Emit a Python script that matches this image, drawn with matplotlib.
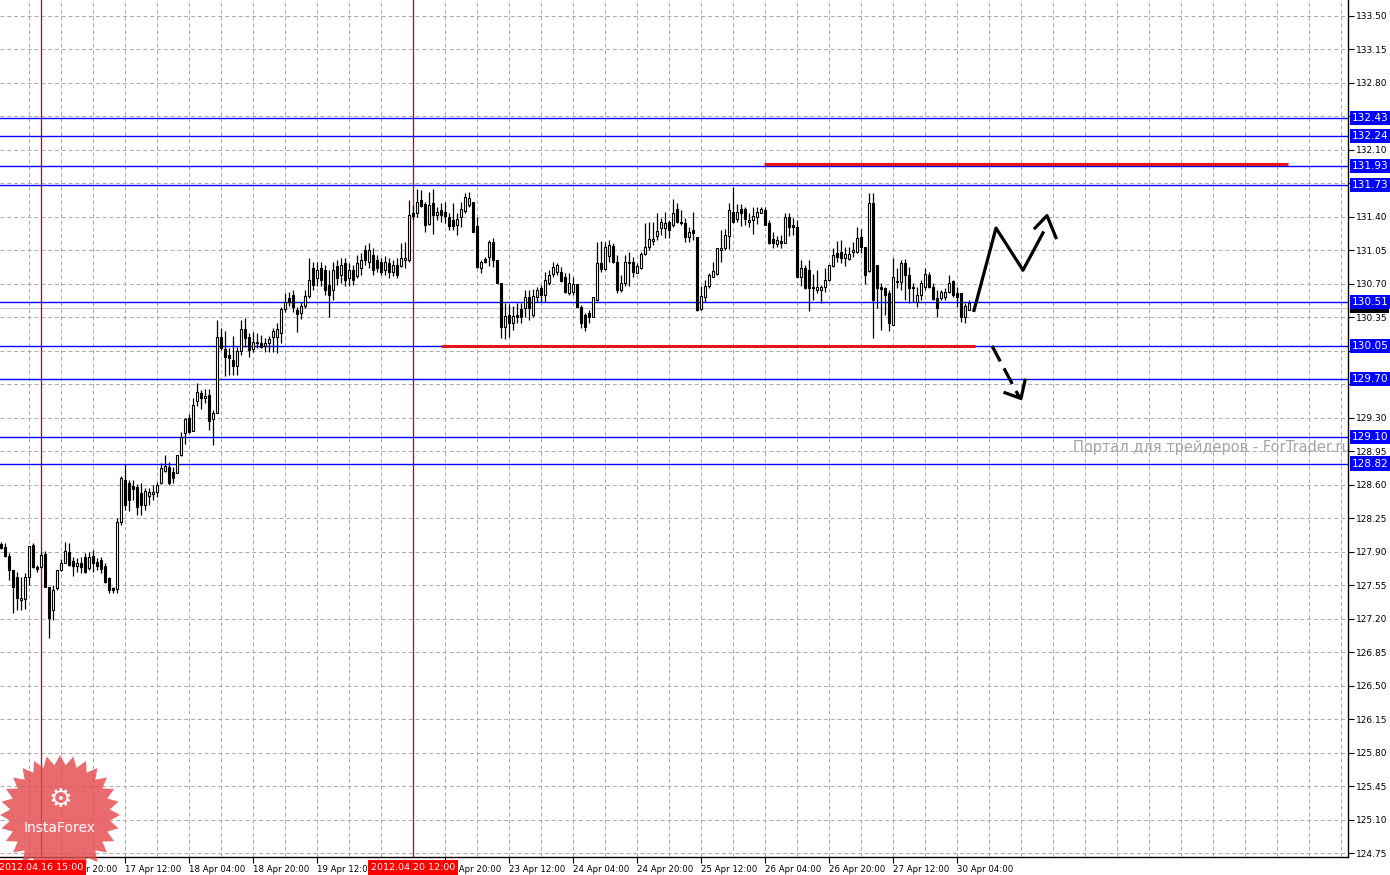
import numpy as np
import matplotlib
matplotlib.use("Agg")
import matplotlib.pyplot as plt
from matplotlib.patches import Polygon, Rectangle

# H1 candles, 16 Apr 05:00 .. 30 Apr 07:00 (bar index 0 .. 242)
opens = [
    127.98, 127.95, 127.86, 127.71, 127.64, 127.40, 127.41, 127.64, 127.97, 127.74,
    127.74, 127.88, 127.53, 127.29, 127.52, 127.71, 127.78, 127.90, 127.80, 127.75,
    127.78, 127.84, 127.73, 127.85, 127.79, 127.81, 127.75, 127.62, 127.52, 127.51,
    128.21, 128.65, 128.62, 128.59, 128.58, 128.51, 128.39, 128.48, 128.50, 128.52,
    128.62, 128.74, 128.78, 128.73, 128.72, 128.91, 129.14, 129.30, 129.16, 129.47,
    129.56, 129.50, 129.54, 129.29, 129.35, 130.14, 130.02, 129.95, 129.90, 129.84,
    130.00, 130.23, 130.14, 130.02, 130.08, 130.08, 130.05, 130.08, 130.14, 130.14,
    130.18, 130.43, 130.55, 130.58, 130.42, 130.39, 130.47, 130.57, 130.86, 130.76,
    130.86, 130.84, 130.69, 130.63, 130.88, 130.79, 130.92, 130.76, 130.84, 130.78,
    130.86, 131.05, 130.93, 131.00, 130.95, 130.93, 130.84, 130.92, 130.82, 130.89,
    130.88, 130.95, 130.95, 131.44, 131.44, 131.57, 131.53, 131.32, 131.54, 131.42,
    131.47, 131.45, 131.40, 131.36, 131.31, 131.40, 131.46, 131.52, 131.55, 131.30,
    130.86, 130.96, 130.98, 131.13, 130.95, 130.71, 130.25, 130.37, 130.29, 130.37,
    130.43, 130.45, 130.56, 130.37, 130.56, 130.65, 130.58, 130.71, 130.80, 130.82,
    130.82, 130.77, 130.60, 130.61, 130.70, 130.46, 130.37, 130.39, 130.35, 130.53,
    130.92, 130.85, 130.99, 131.09, 130.93, 130.63, 130.71, 130.93, 130.93, 130.81,
    130.86, 131.01, 131.08, 131.15, 131.20, 131.28, 131.28, 131.34, 131.31, 131.48,
    131.34, 131.33, 131.19, 131.26, 131.19, 130.43, 130.56, 130.67, 130.77, 130.80,
    131.05, 131.07, 131.20, 131.45, 131.37, 131.48, 131.48, 131.34, 131.36, 131.40,
    131.44, 131.47, 131.33, 131.17, 131.11, 131.15, 131.12, 131.40, 131.31, 131.29,
    130.77, 130.86, 130.84, 130.65, 130.63, 130.63, 130.66, 130.74, 130.88, 131.02,
    131.03, 130.97, 130.96, 131.03, 131.03, 131.19, 131.08, 130.83, 131.54, 130.89,
    130.66, 130.65, 130.60, 130.27, 130.72, 130.72, 130.91, 130.79, 130.65, 130.51,
    130.58, 130.66, 130.79, 130.66, 130.55, 130.55, 130.56, 130.61, 130.73, 130.60,
    130.60, 130.35, 130.42,
]
closes = [
    127.94, 127.86, 127.71, 127.53, 127.42, 127.42, 127.64, 127.96, 127.74, 127.72,
    127.87, 127.53, 127.21, 127.50, 127.71, 127.78, 127.91, 127.76, 127.75, 127.78,
    127.74, 127.69, 127.84, 127.78, 127.75, 127.72, 127.58, 127.50, 127.50, 128.21,
    128.67, 128.39, 128.44, 128.55, 128.37, 128.39, 128.53, 128.52, 128.52, 128.60,
    128.77, 128.79, 128.62, 128.67, 128.91, 129.10, 129.29, 129.15, 129.43, 129.57,
    129.50, 129.53, 129.27, 129.35, 130.14, 130.03, 129.93, 129.92, 129.84, 130.00,
    130.23, 130.13, 130.01, 130.09, 130.09, 130.04, 130.08, 130.12, 130.20, 130.23,
    130.43, 130.51, 130.51, 130.46, 130.38, 130.47, 130.57, 130.74, 130.69, 130.84,
    130.74, 130.63, 130.58, 130.84, 130.76, 130.89, 130.74, 130.84, 130.74, 130.92,
    130.95, 130.95, 131.05, 130.84, 130.86, 130.82, 130.93, 130.82, 130.89, 130.79,
    130.97, 130.97, 131.42, 131.41, 131.55, 131.51, 131.31, 131.52, 131.42, 131.45,
    131.42, 131.41, 131.30, 131.30, 131.37, 131.48, 131.60, 131.59, 131.24, 130.87,
    130.93, 130.93, 131.13, 130.95, 130.71, 130.25, 130.36, 130.29, 130.36, 130.35,
    130.35, 130.56, 130.45, 130.57, 130.63, 130.58, 130.74, 130.79, 130.87, 130.89,
    130.73, 130.61, 130.71, 130.70, 130.46, 130.29, 130.25, 130.35, 130.56, 130.92,
    130.85, 131.08, 131.10, 130.93, 130.63, 130.71, 130.93, 130.92, 130.82, 130.88,
    131.01, 131.08, 131.17, 131.17, 131.25, 131.34, 131.33, 131.26, 131.44, 131.34,
    131.33, 131.19, 131.24, 131.23, 130.42, 130.57, 130.67, 130.79, 130.83, 131.07,
    131.07, 131.21, 131.47, 131.34, 131.45, 131.44, 131.37, 131.36, 131.41, 131.45,
    131.48, 131.31, 131.12, 131.12, 131.16, 131.12, 131.40, 131.29, 131.29, 130.77,
    130.86, 130.65, 130.65, 130.66, 130.66, 130.66, 130.74, 130.89, 131.00, 130.98,
    130.97, 131.01, 131.01, 131.05, 131.18, 131.08, 130.79, 131.54, 130.53, 130.65,
    130.64, 130.58, 130.29, 130.77, 130.73, 130.92, 130.79, 130.65, 130.66, 130.58,
    130.71, 130.80, 130.66, 130.54, 130.45, 130.61, 130.61, 130.71, 130.58, 130.56,
    130.35, 130.47, 130.50,
]
highs = [
    128.00, 127.99, 127.89, 127.71, 127.69, 127.64, 127.68, 127.96, 127.99, 127.76,
    127.90, 127.91, 127.53, 127.55, 127.71, 127.82, 128.00, 127.99, 127.84, 127.83,
    127.84, 127.89, 127.90, 127.92, 127.83, 127.84, 127.78, 127.64, 127.53, 128.25,
    128.69, 128.82, 128.65, 128.65, 128.61, 128.62, 128.57, 128.57, 128.60, 128.63,
    128.83, 128.91, 128.84, 128.78, 128.91, 129.15, 129.30, 129.34, 129.51, 129.66,
    129.59, 129.60, 129.60, 129.38, 130.32, 130.24, 130.21, 130.03, 130.15, 130.04,
    130.32, 130.34, 130.18, 130.19, 130.18, 130.16, 130.13, 130.15, 130.24, 130.29,
    130.46, 130.60, 130.61, 130.63, 130.46, 130.51, 130.63, 130.97, 130.93, 130.93,
    130.93, 130.89, 130.84, 130.93, 130.95, 130.97, 130.97, 130.91, 130.89, 131.00,
    131.02, 131.10, 131.12, 131.07, 131.00, 130.97, 130.99, 130.97, 130.95, 130.97,
    131.12, 131.13, 131.57, 131.52, 131.69, 131.68, 131.55, 131.66, 131.69, 131.50,
    131.54, 131.55, 131.44, 131.54, 131.44, 131.55, 131.65, 131.66, 131.55, 131.40,
    130.95, 130.98, 131.16, 131.18, 130.95, 130.71, 130.50, 130.49, 130.47, 130.50,
    130.50, 130.63, 130.63, 130.64, 130.66, 130.69, 130.82, 130.84, 130.93, 130.91,
    130.87, 130.81, 130.81, 130.77, 130.70, 130.48, 130.39, 130.42, 130.56, 131.13,
    131.14, 131.13, 131.16, 131.12, 131.00, 130.79, 131.00, 131.03, 130.98, 130.91,
    131.03, 131.33, 131.34, 131.34, 131.44, 131.38, 131.45, 131.36, 131.58, 131.54,
    131.47, 131.38, 131.29, 131.45, 131.19, 130.67, 130.74, 130.81, 130.93, 131.07,
    131.26, 131.27, 131.54, 131.71, 131.53, 131.53, 131.50, 131.44, 131.50, 131.50,
    131.50, 131.50, 131.36, 131.24, 131.20, 131.21, 131.44, 131.44, 131.38, 131.36,
    130.95, 130.89, 130.95, 130.80, 130.84, 130.69, 130.86, 130.89, 131.07, 131.15,
    131.16, 131.08, 131.08, 131.13, 131.29, 131.27, 131.08, 131.65, 131.65, 130.89,
    130.71, 130.66, 130.63, 130.97, 130.86, 130.95, 130.96, 130.87, 130.71, 130.66,
    130.74, 130.86, 130.82, 130.71, 130.63, 130.63, 130.65, 130.79, 130.74, 130.66,
    130.60, 130.50, 130.53,
]
lows = [
    127.93, 127.84, 127.60, 127.26, 127.29, 127.29, 127.30, 127.55, 127.73, 127.69,
    127.73, 127.53, 127.00, 127.19, 127.50, 127.70, 127.78, 127.75, 127.65, 127.69,
    127.68, 127.68, 127.71, 127.69, 127.71, 127.68, 127.57, 127.47, 127.47, 127.47,
    128.18, 128.34, 128.32, 128.44, 128.28, 128.28, 128.34, 128.39, 128.44, 128.47,
    128.61, 128.73, 128.60, 128.62, 128.72, 128.90, 129.02, 129.14, 129.16, 129.42,
    129.39, 129.45, 129.17, 129.01, 129.35, 130.01, 129.74, 129.75, 129.75, 129.75,
    129.95, 130.04, 129.93, 129.99, 130.03, 130.03, 129.99, 129.99, 129.99, 129.98,
    130.08, 130.40, 130.47, 130.40, 130.19, 130.33, 130.45, 130.55, 130.63, 130.67,
    130.68, 130.58, 130.35, 130.53, 130.69, 130.71, 130.68, 130.67, 130.69, 130.76,
    130.79, 130.89, 130.86, 130.79, 130.82, 130.79, 130.79, 130.76, 130.78, 130.76,
    130.87, 130.86, 130.93, 131.36, 131.40, 131.50, 131.24, 131.31, 131.22, 131.36,
    131.34, 131.33, 131.26, 131.26, 131.21, 131.29, 131.44, 131.50, 131.24, 130.86,
    130.81, 130.92, 130.88, 130.87, 130.71, 130.13, 130.12, 130.14, 130.22, 130.29,
    130.29, 130.35, 130.32, 130.35, 130.51, 130.51, 130.51, 130.69, 130.77, 130.79,
    130.72, 130.60, 130.58, 130.58, 130.46, 130.24, 130.20, 130.29, 130.35, 130.52,
    130.82, 130.84, 130.93, 130.92, 130.60, 130.61, 130.68, 130.68, 130.77, 130.81,
    130.85, 131.00, 131.05, 131.10, 131.16, 131.21, 131.18, 131.18, 131.29, 131.33,
    131.31, 131.13, 131.13, 131.16, 130.41, 130.42, 130.51, 130.65, 130.77, 130.79,
    130.93, 131.05, 131.06, 131.33, 131.34, 131.30, 131.31, 131.29, 131.22, 131.32,
    131.44, 131.31, 131.11, 131.07, 131.08, 131.07, 131.12, 131.20, 131.21, 130.77,
    130.67, 130.64, 130.41, 130.53, 130.60, 130.50, 130.61, 130.73, 130.87, 130.93,
    130.92, 130.88, 130.95, 130.98, 131.02, 131.02, 130.70, 130.82, 130.13, 130.45,
    130.22, 130.37, 130.20, 130.27, 130.65, 130.63, 130.53, 130.50, 130.51, 130.46,
    130.53, 130.63, 130.65, 130.53, 130.35, 130.53, 130.53, 130.60, 130.56, 130.46,
    130.30, 130.29, 130.42,
]

# time axis labels (bar index -> text); 20 Apr 04:00 sits under the red date marker
tick_bars = [15, 31, 47, 63, 79, 111, 127, 143, 159, 175, 191, 207, 223, 239]
tick_labels = ["16 Apr 20:00", "17 Apr 12:00", "18 Apr 04:00", "18 Apr 20:00",
               "19 Apr 12:00", "20 Apr 20:00", "23 Apr 12:00",
               "24 Apr 04:00", "24 Apr 20:00", "25 Apr 12:00", "26 Apr 04:00",
               "26 Apr 20:00", "27 Apr 12:00", "30 Apr 04:00"]

# vertical date markers
vline_bars = [10, 103]
vline_labels = ["2012.04.16 15:00", "2012.04.20 12:00"]

# horizontal levels (blue) and current bid
levels = [132.43, 132.24, 131.93, 131.73, 130.51, 130.05, 129.70, 129.10, 128.82]
bid = 130.45

# red support / resistance segments: price, start bar, end bar
red_price = [131.95, 130.05]
red_start = [190.75, 110.0]
red_end = [321.75, 243.5]

# forecast arrows (bar, price)
up_x = [243.25, 248.75, 255.5, 260.5]
up_y = [130.42, 131.28, 130.84, 131.23]
up_head_x = [258.5, 261.5, 263.75]
up_head_y = [131.28, 131.41, 131.18]
dn_x = [247.75, 254.75]
dn_y = [130.05, 129.50]
dn_head_x = [251.0, 255.0, 256.0]
dn_head_y = [129.56, 129.50, 129.69]

W, H = 1390, 875
fig = plt.figure(figsize=(W / 100, H / 100), dpi=100)
fig.patch.set_facecolor("white")
ax = fig.add_axes([0, 18 / H, 1348 / W, 857 / H])
ax.patch.set_visible(False)

ax.set_xlim(-0.25, 336.75)
ax.set_ylim(124.711, 133.662)

yticks = np.round(124.75 + 0.35 * np.arange(26), 2)
# labels fully covered by level boxes are left blank
hidden = {132.45, 131.75, 130.00, 129.65}
ax.set_yticks(yticks)
ax.set_yticklabels(["" if v in hidden else f"{v:.2f}" for v in yticks])
ax.yaxis.tick_right()
ax.tick_params(axis="y", direction="out", length=4, width=0.8, labelsize=6.5, pad=1.5)

ax.set_xticks(tick_bars)
ax.set_xticklabels(tick_labels)
ax.tick_params(axis="x", direction="out", length=4, width=0.8, labelsize=6.2, pad=1.5)
for lbl in ax.get_xticklabels():
    lbl.set_ha("left")

for s in ["top", "left"]:
    ax.spines[s].set_visible(False)
for s in ["right", "bottom"]:
    ax.spines[s].set_linewidth(1.0)

# dashed grid
grid_kw = dict(color="#a9a9a9", lw=0.7, ls=(0, (4, 3)), zorder=0.5)
for v in yticks:
    ax.axhline(v, **grid_kw)
for b in np.arange(7, 337, 8):
    ax.axvline(b, **grid_kw)

# watermark
fig.text(1073 / W, 1 - 447 / H, "Портал для трейдеров - ForTrader.ru",
         color="#a4a4a4", fontsize=10.5, ha="left", va="center", zorder=-1)

# levels
for lv in levels:
    ax.axhline(lv, color="#0000ff", lw=1.0, zorder=1.5)
ax.axhline(bid, color="#c8c8c8", lw=0.8, zorder=1.4)
for b in vline_bars:
    ax.axvline(b, color="#c00000", lw=0.9, zorder=2)

# candles
x = np.arange(len(opens))
o = np.array(opens)
c = np.array(closes)
hi = np.array(highs)
lo = np.array(lows)
up = c >= o
ax.vlines(x, lo, hi, color="black", lw=0.9, zorder=2.9)
body_lo = np.minimum(o, c)
body_h = np.maximum(np.abs(c - o), 0.008)
ax.bar(x[up], body_h[up], bottom=body_lo[up], width=0.65, facecolor="white",
       edgecolor="black", linewidth=0.8, zorder=3)
ax.bar(x[~up], body_h[~up], bottom=body_lo[~up], width=0.65, facecolor="black",
       edgecolor="black", linewidth=0.8, zorder=3)

# red lines
for p, s, e in zip(red_price, red_start, red_end):
    ax.plot([s, e], [p, p], color="#e8141a", lw=2.2, solid_capstyle="butt", zorder=4)

# forecast arrows
ax.plot(up_x, up_y, color="black", lw=2.3, zorder=5)
ax.plot(up_head_x, up_head_y, color="black", lw=2.3, zorder=5)
ax.plot(dn_x, dn_y, color="black", lw=2.3, ls=(0, (5.5, 2.5)), zorder=5)
ax.plot(dn_head_x, dn_head_y, color="black", lw=2.3, zorder=5)

# right-side level labels; the bid tag is mostly hidden behind the 130.51 tag
ytr = ax.get_yaxis_transform()
ax.add_patch(Rectangle((1.0015, bid - 0.06), 0.029, 0.12, transform=ytr,
                       facecolor="black", edgecolor="none", clip_on=False, zorder=7))
for lv in levels:
    ax.text(1.003, lv, f"{lv:.2f}", transform=ytr, color="white", fontsize=7.6,
            ha="left", va="center", clip_on=False, zorder=8,
            bbox=dict(boxstyle="square,pad=0.2", fc="#0000ff", ec="none"))

# InstaForex logo
cx, cy = 60 / W, 1 - 815 / H
n = 28
ang = np.linspace(0, 2 * np.pi, 2 * n, endpoint=False) + np.pi / 2
rad = np.where(np.arange(2 * n) % 2 == 0, 60, 50)
star = np.column_stack([cx + rad * np.cos(ang) / W, cy + rad * np.sin(ang) / H])
ax.add_patch(Polygon(star, closed=True, transform=fig.transFigure, facecolor="#e54b4e",
                     edgecolor="none", alpha=0.82, clip_on=False, zorder=9))
ax.text(cx, 1 - 800 / H, "\u2699", transform=fig.transFigure, color="white",
        fontsize=19, ha="center", va="center", zorder=10, clip_on=False)
ax.text(cx, 1 - 828 / H, "InstaForex", transform=fig.transFigure, color="white",
        fontsize=10, ha="center", va="center", zorder=10, clip_on=False)

# red date labels on the time axis
xtr = ax.get_xaxis_transform()
for b, txt in zip(vline_bars, vline_labels):
    ax.text(b, -0.0125, txt, transform=xtr, color="white", fontsize=6.8,
            ha="center", va="center", clip_on=False, zorder=11,
            bbox=dict(boxstyle="square,pad=0.3", fc="#ff0000", ec="none"))

fig.savefig("out.png", dpi=100, facecolor="white")
